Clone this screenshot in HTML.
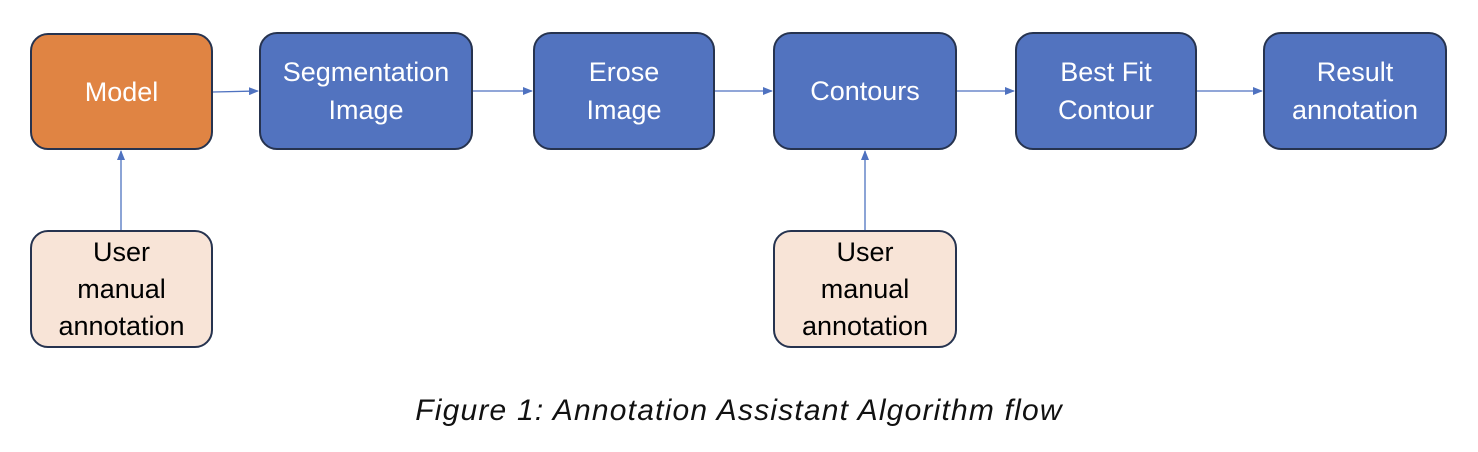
<!DOCTYPE html>
<html><head><style>
body{margin:0;width:1478px;height:452px;background:#fff;position:relative;overflow:hidden;font-family:"Liberation Sans",sans-serif}
.b{position:absolute;box-sizing:border-box;border:2px solid #26334f;border-radius:18px;display:flex;align-items:center;justify-content:center;text-align:center;font-size:27px;line-height:38px;color:#fff}
.bl{background:#5273bf}
.o{background:#e08443}
.p{background:#f8e4d7;color:#000;line-height:37px}
.cap{position:absolute;top:394px;left:0;width:1478px;text-align:center;font-style:italic;font-size:30px;letter-spacing:1.2px;color:#111}
svg{position:absolute;left:0;top:0}
</style></head><body>
<svg width="1478" height="452">
<defs><marker id="a" markerWidth="10" markerHeight="8" refX="9" refY="4" orient="auto" markerUnits="userSpaceOnUse"><path d="M0,0L10,4L0,8z" fill="#4f72c0"/></marker></defs>
<g stroke="#4f72c0" stroke-width="1.3" fill="none" marker-end="url(#a)">
<line x1="213" y1="92" x2="258" y2="91"/>
<line x1="473" y1="91" x2="532" y2="91"/>
<line x1="715" y1="91" x2="772" y2="91"/>
<line x1="957" y1="91" x2="1014" y2="91"/>
<line x1="1197" y1="91" x2="1262" y2="91"/>
<line x1="121" y1="230" x2="121" y2="151"/>
<line x1="865" y1="230" x2="865" y2="151"/>
</g></svg>
<div class="b o" style="left:30px;top:33px;width:183px;height:117px">Model</div>
<div class="b bl" style="left:259px;top:32px;width:214px;height:118px">Segmentation<br>Image</div>
<div class="b bl" style="left:533px;top:32px;width:182px;height:118px">Erose<br>Image</div>
<div class="b bl" style="left:773px;top:32px;width:184px;height:118px">Contours</div>
<div class="b bl" style="left:1015px;top:32px;width:182px;height:118px">Best Fit<br>Contour</div>
<div class="b bl" style="left:1263px;top:32px;width:184px;height:118px">Result<br>annotation</div>
<div class="b p" style="left:30px;top:230px;width:183px;height:118px">User<br>manual<br>annotation</div>
<div class="b p" style="left:773px;top:230px;width:184px;height:118px">User<br>manual<br>annotation</div>
<div class="cap">Figure 1: Annotation Assistant Algorithm flow</div>
</body></html>
